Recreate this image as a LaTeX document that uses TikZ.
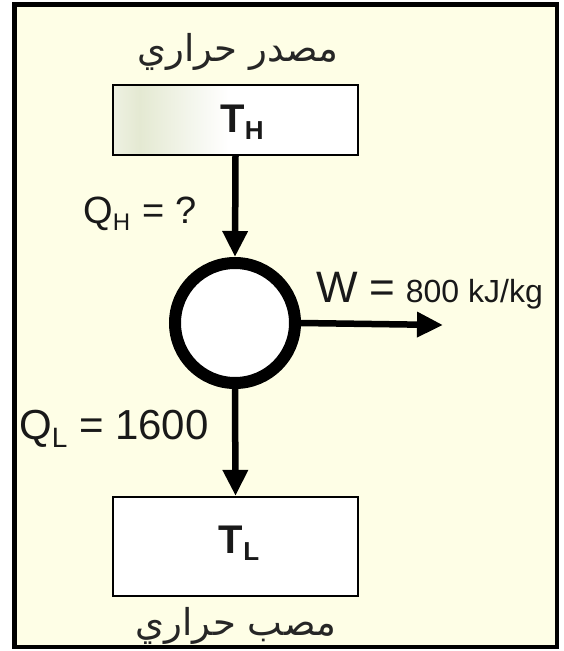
\documentclass[tikz,border=0pt]{standalone}
\usepackage{fontspec}
\setmainfont{Liberation Sans}
\newfontfamily\arabicfont[Script=Arabic]{DejaVu Sans}
\TeXXeTstate=1
\usetikzlibrary{arrows.meta}
\definecolor{bgcream}{HTML}{FEFEE6}
\definecolor{hotgreen}{HTML}{E4E9D2}
\definecolor{hotedge}{HTML}{EEF1E2}
\tikzset{
  flow/.style={line width=6.5pt,-{Triangle[length=26pt,width=24pt]}},
  reservoir/.style={draw=black,line width=2.2pt,minimum width=245pt,minimum height=70pt,inner sep=0pt},
  lbl/.style={inner sep=0pt,text=black!90},
  arab/.style={inner sep=0pt,font=\arabicfont\fontsize{37}{40}\selectfont,text=black!85}
}
\begin{document}
\begin{tikzpicture}[x=1pt,y=-1pt]
\useasboundingbox (0,0) rectangle (564,651);
\fill[white] (0,0) rectangle (564,651);
\draw[line width=4.5pt,fill=bgcream] (14.5,4.5) rectangle (557,647);
% top reservoir
\fill[white] (113,85) rectangle (358,155);
\shade[left color=hotedge,right color=hotgreen] (113,85) rectangle (140,155);
\shade[left color=hotgreen,right color=white] (140,85) rectangle (228,155);
\node[reservoir,minimum height=70pt] (hot) at (235.5,120) {};
\node[lbl,font=\bfseries\fontsize{40}{40}\selectfont] (th) at (242,122) {T\raisebox{-0.35ex}{\fontsize{26}{26}\selectfont H}};
\node[arab] (hotname) at (238,52) {\beginR مصدر حراري\endR};
% engine
\node[circle,draw=black,line width=12pt,fill=white,minimum size=120pt,inner sep=0pt] (eng) at (235,323) {};
% bottom reservoir
\node[reservoir,fill=white,minimum height=99pt] (cold) at (235.5,546.5) {};
\node[lbl,font=\bfseries\fontsize{40}{40}\selectfont] (tl) at (239,543) {T\raisebox{-0.35ex}{\fontsize{26}{26}\selectfont L}};
\node[arab] (coldname) at (236,626) {\beginR مصب حراري\endR};
% arrows
\draw[flow] (hot.south) -- (eng.north);
\draw[flow] (eng.south) -- (cold.north);
\coordinate (wend) at (443,325);
\draw[flow] (eng.east) -- (wend);
% labels
\node[lbl,font=\fontsize{38}{38}\selectfont,anchor=west] (qh) at (83,214) {Q\raisebox{-0.35ex}{\fontsize{24}{24}\selectfont H}\hspace{2pt} = ?};
\node[lbl,font=\fontsize{42}{42}\selectfont,anchor=west] (ql) at (19,429) {Q\raisebox{-0.35ex}{\fontsize{28}{28}\selectfont L} = 1600};
\node[lbl,font=\fontsize{44}{44}\selectfont,anchor=west] (w) at (316,291) {W = \hspace{-2pt}\fontsize{32}{32}\selectfont 800 kJ/kg};
\end{tikzpicture}
\end{document}
